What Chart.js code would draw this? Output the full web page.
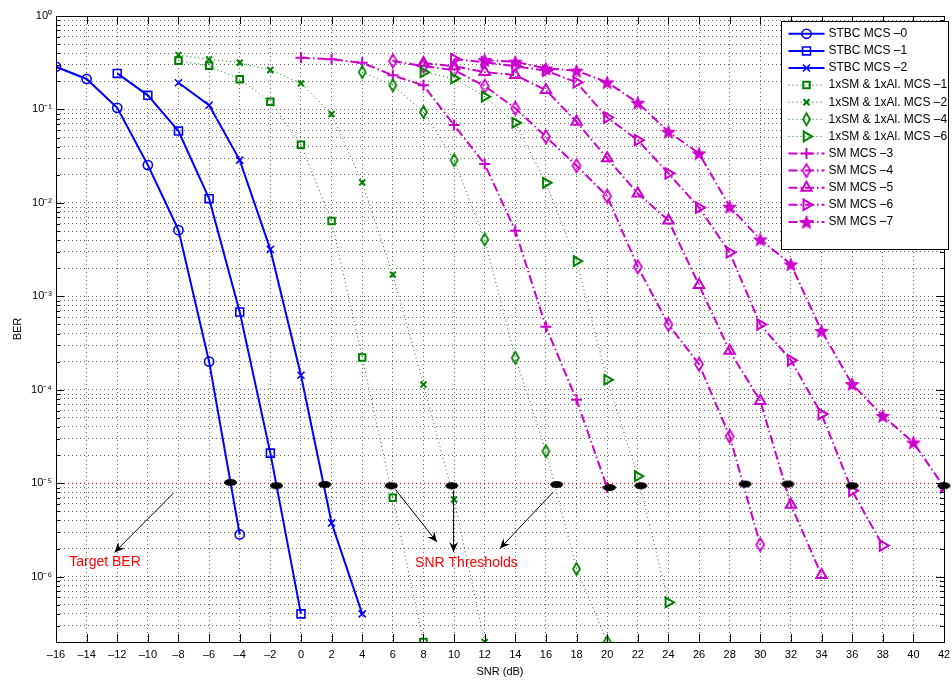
<!DOCTYPE html>
<html><head><meta charset="utf-8">
<script src="https://cdn.jsdelivr.net/npm/chart.js@4.4.1/dist/chart.umd.min.js"></script>
<style>html,body{margin:0;padding:0;background:#fff;}#wrap{width:952px;height:681px;position:relative;}</style>
</head><body><div id="wrap"><canvas id="c" width="952" height="681"></canvas></div>
<script>
// ---------------- data ----------------
const xTickValues = [-16,-14,-12,-10,-8,-6,-4,-2,0,2,4,6,8,10,12,14,16,18,20,22,24,26,28,30,32,34,36,38,40,42];
const yDecadeExponents = [-7,-6,-5,-4,-3,-2,-1,0];
const yMinorMultipliers = [1,2,3,4,5,6,7,8,9];

const snrStbc0 = [-16,-14,-12,-10,-8,-6,-4];
const berStbc0 = [0.286,0.212,0.104,0.0254,0.00511,2.0e-4,2.83e-6];
const snrStbc1 = [-12,-10,-8,-6,-4,-2,0];
const berStbc1 = [0.243,0.1416,0.0587,0.0111,6.8e-4,2.1e-5,4.0e-7];
const snrStbc2 = [-8,-6,-4,-2,0,2,4];
const berStbc2 = [0.193,0.111,0.0287,3.18e-3,1.43e-4,3.76e-6,4.0e-7];

const snrSm1x1 = [-8,-6,-4,-2,0,2,4,6,8];
const berSm1x1 = [0.333,0.294,0.21,0.121,0.0419,6.4e-3,2.22e-4,7.0e-6,2.0e-7];
const snrSm1x2 = [-8,-6,-4,-2,0,2,4,6,8,10,12];
const berSm1x2 = [0.382,0.344,0.316,0.264,0.19,0.0893,0.01657,1.71e-3,1.14e-4,6.7e-6,2.0e-7];
const snrSm1x4 = [4,6,8,10,12,14,16,18,20];
const berSm1x4 = [0.251,0.181,0.0938,0.0287,4.06e-3,2.2e-4,2.2e-5,1.21e-6,2.0e-7];
const snrSm1x6 = [8,10,12,14,16,18,20,22,24];
const berSm1x6 = [0.25,0.215,0.137,0.072,0.0164,2.38e-3,1.28e-4,1.19e-5,5.3e-7];

const snrSm3 = [0,2,4,6,8,10,12,14,16,18,20];
const berSm3 = [0.358,0.344,0.316,0.232,0.181,0.068,0.026,5.03e-3,4.72e-4,7.8e-5,9.0e-6];
const snrSm4 = [6,8,10,12,14,16,18,20,22,24,26,28,30];
const berSm4 = [0.33,0.29,0.264,0.178,0.103,0.051,0.025,0.0118,2.07e-3,5.0e-4,1.88e-4,3.18e-5,2.2e-6];
const snrSm5 = [8,10,12,14,16,18,20,22,24,26,28,30,32,34];
const berSm5 = [0.314,0.29,0.251,0.233,0.161,0.0739,0.030,0.0126,6.5e-3,1.32e-3,2.61e-4,7.6e-5,5.9e-6,1.04e-6];
const snrSm6 = [10,12,14,16,18,20,22,24,26,28,30,32,34,36,38];
const berSm6 = [0.346,0.32,0.29,0.26,0.195,0.082,0.047,0.0207,8.9e-3,2.95e-3,5.0e-4,2.07e-4,5.5e-5,8.3e-6,2.15e-6];
const snrSm7 = [12,14,16,18,20,22,24,26,28,30,32,34,36,38,40,42];
const berSm7 = [0.338,0.324,0.275,0.26,0.195,0.118,0.0577,0.0339,9.1e-3,4.07e-3,2.2e-3,4.27e-4,1.15e-4,5.26e-5,2.73e-5,9.1e-6];

const targetSnr = [-16,42];
const targetBer = [1e-5,1e-5];
const thresholdSnr = [-4.6,-1.6,1.55,5.9,9.85,16.7,20.15,22.2,29.0,31.8,36.0,42.0];
const thresholdBer = [1.02e-5,9.4e-6,9.7e-6,9.4e-6,9.4e-6,9.7e-6,9.0e-6,9.4e-6,9.8e-6,9.8e-6,9.4e-6,9.4e-6];

const arrowFromSnr = [-8.34,6.17,9.97,16.48];
const arrowFromBer = [7.8e-6,8.57e-6,8.41e-6,8.07e-6];
const arrowToSnr = [-12.18,8.88,9.97,12.99];
const arrowToBer = [1.82e-6,2.35e-6,1.84e-6,2.0e-6];
const noteTexts = ['Target BER','SNR Thresholds'];
const noteSnr = [-12.8,10.81];
const noteBer = [1.43e-6,1.39e-6];

const seriesLabels = ['STBC MCS \u20130','STBC MCS \u20131','STBC MCS \u20132',
  '1xSM & 1xAl. MCS \u20131','1xSM & 1xAl. MCS \u20132','1xSM & 1xAl. MCS \u20134','1xSM & 1xAl. MCS \u20136',
  'SM MCS \u20133','SM MCS \u20134','SM MCS \u20135','SM MCS \u20136','SM MCS \u20137'];
const seriesX = [snrStbc0,snrStbc1,snrStbc2,snrSm1x1,snrSm1x2,snrSm1x4,snrSm1x6,snrSm3,snrSm4,snrSm5,snrSm6,snrSm7];
const seriesY = [berStbc0,berStbc1,berStbc2,berSm1x1,berSm1x2,berSm1x4,berSm1x6,berSm3,berSm4,berSm5,berSm6,berSm7];

// ---------------- styles ----------------
const BLUE = '#0000ff', GREEN = '#008000', MAG = '#cc00cc';
const FONT = '"Liberation Sans", Arial, Helvetica, sans-serif';

function makeDiamond(color, w, h, lw) {
  const c = document.createElement('canvas');
  c.width = Math.ceil(w + lw * 2 + 2); c.height = Math.ceil(h + lw * 2 + 2);
  const g = c.getContext('2d'); const cx = c.width / 2, cy = c.height / 2;
  g.strokeStyle = color; g.lineWidth = lw; g.lineJoin = 'miter';
  g.beginPath(); g.moveTo(cx, cy - h / 2); g.lineTo(cx + w / 2, cy); g.lineTo(cx, cy + h / 2); g.lineTo(cx - w / 2, cy); g.closePath(); g.stroke();
  return c;
}
function makeStar(color, R) {
  const c = document.createElement('canvas');
  c.width = Math.ceil(R * 2 + 4); c.height = Math.ceil(R * 2 + 4);
  const g = c.getContext('2d'); const cx = c.width / 2, cy = c.height / 2 + 0.8;
  const r = R * 0.42;
  g.fillStyle = color; g.strokeStyle = color; g.lineWidth = 1;
  g.beginPath();
  for (let i = 0; i < 10; i++) {
    const ang = -Math.PI / 2 + i * Math.PI / 5; const rr = i % 2 ? r : R;
    const px = cx + rr * Math.cos(ang), py = cy + rr * Math.sin(ang);
    i ? g.lineTo(px, py) : g.moveTo(px, py);
  }
  g.closePath(); g.fill(); g.stroke();
  return c;
}
function makeBlob(w, h) {
  const c = document.createElement('canvas');
  c.width = w + 2; c.height = h + 2;
  const g = c.getContext('2d');
  g.fillStyle = '#000';
  g.beginPath(); g.ellipse(c.width / 2, c.height / 2, w / 2, h / 2, 0, 0, Math.PI * 2); g.fill();
  return c;
}
const greenDiamond = makeDiamond(GREEN, 7, 12, 1.8);
const magDiamond = makeDiamond(MAG, 8, 13, 1.8);
const magStar = makeStar(MAG, 7);
const blob = makeBlob(13, 7);

const styles = [
  {c: BLUE, dash: [], w: 2, ps: 'circle', r: 4.6, bw: 1.6},
  {c: BLUE, dash: [], w: 2, ps: 'rect', r: 5.6, bw: 1.6},
  {c: BLUE, dash: [], w: 2, ps: 'crossRot', r: 5, bw: 1.6},
  {c: GREEN, dash: [1, 3], w: 1, ps: 'rect', r: 4.6, bw: 2},
  {c: GREEN, dash: [1, 3], w: 1, ps: 'crossRot', r: 4.2, bw: 2},
  {c: GREEN, dash: [1, 3], w: 1, ps: greenDiamond, r: 5, bw: 2},
  {c: GREEN, dash: [1, 3], w: 1, ps: 'triangle', rot: 90, r: 5.6, bw: 2},
  {c: MAG, dash: [9, 3, 1.5, 3], w: 2, ps: 'cross', r: 5.5, bw: 2},
  {c: MAG, dash: [9, 3, 1.5, 3], w: 2, ps: magDiamond, r: 5, bw: 2},
  {c: MAG, dash: [9, 3, 1.5, 3], w: 2, ps: 'triangle', rot: 0, r: 6, bw: 2},
  {c: MAG, dash: [9, 3, 1.5, 3], w: 2, ps: 'triangle', rot: 90, r: 6, bw: 2},
  {c: MAG, dash: [9, 3, 1.5, 3], w: 2, ps: magStar, r: 6, bw: 1}
];

const datasets = seriesLabels.map((lab, i) => {
  const s = styles[i];
  return {
    label: lab,
    data: seriesX[i].map((v, k) => ({x: v, y: seriesY[i][k]})),
    borderColor: s.c, borderWidth: s.w, borderDash: s.dash,
    pointStyle: s.ps, pointRotation: s.rot || 0, pointRadius: s.r, pointHoverRadius: s.r,
    pointBorderWidth: s.bw, pointBorderColor: s.c, pointBackgroundColor: 'rgba(0,0,0,0)',
    fill: false, tension: 0, order: 10
  };
});
datasets.push({
  label: 'Target BER line',
  data: targetSnr.map((v, k) => ({x: v, y: targetBer[k]})),
  borderColor: '#dd0000', borderWidth: 1, borderDash: [1, 3], pointRadius: 0, fill: false, order: 50
});
datasets.push({
  label: 'SNR thresholds',
  data: thresholdSnr.map((v, k) => ({x: v, y: thresholdBer[k]})),
  showLine: false, pointStyle: blob, pointRadius: 6, pointHoverRadius: 6, clip: false, order: 0
});

const SUP = {'0':'\u2070','1':'\u00b9','2':'\u00b2','3':'\u00b3','4':'\u2074','5':'\u2075','6':'\u2076','7':'\u2077','8':'\u2078','9':'\u2079','-':'\u207b'};
function supLabel(e) { return '10' + String(e).split('').map(ch => SUP[ch]).join(''); }
function isDecade(v) { const l = Math.log10(v); return Math.abs(l - Math.round(l)) < 1e-9; }

function drawArrow(ctx, x1, y1, x2, y2) {
  ctx.beginPath(); ctx.moveTo(x1, y1); ctx.lineTo(x2, y2); ctx.stroke();
  const ang = Math.atan2(y2 - y1, x2 - x1), L = 10, W = 4.5, N = 6.5;
  const bx = x2 - L * Math.cos(ang), by = y2 - L * Math.sin(ang);
  const nx = x2 - N * Math.cos(ang), ny = y2 - N * Math.sin(ang);
  const px = -Math.sin(ang), py = Math.cos(ang);
  ctx.beginPath(); ctx.moveTo(x2, y2); ctx.lineTo(bx + px * W, by + py * W); ctx.lineTo(nx, ny); ctx.lineTo(bx - px * W, by - py * W); ctx.closePath(); ctx.fill();
}

const decor = {
  id: 'decor',
  afterDatasetsDraw(chart) {
    const {ctx, chartArea: a, scales: {x, y}} = chart;
    ctx.save();
    // arrows
    ctx.strokeStyle = '#000'; ctx.fillStyle = '#000'; ctx.lineWidth = 1;
    for (let i = 0; i < arrowFromSnr.length; i++) {
      drawArrow(ctx, x.getPixelForValue(arrowFromSnr[i]), y.getPixelForValue(arrowFromBer[i]),
        x.getPixelForValue(arrowToSnr[i]), y.getPixelForValue(arrowToBer[i]));
    }
    // notes
    ctx.fillStyle = '#ff0000'; ctx.font = '14px ' + FONT; ctx.textAlign = 'center'; ctx.textBaseline = 'middle';
    noteTexts.forEach((t, i) => ctx.fillText(t, x.getPixelForValue(noteSnr[i]), y.getPixelForValue(noteBer[i])));
    // frame
    ctx.strokeStyle = '#000'; ctx.lineWidth = 1;
    ctx.strokeRect(Math.round(a.left) + 0.5, Math.round(a.top) + 0.5, Math.round(a.right - a.left), Math.round(a.bottom - a.top));
    // inward ticks
    ctx.beginPath();
    xTickValues.forEach(v => {
      const px = Math.round(x.getPixelForValue(v)) + 0.5;
      ctx.moveTo(px, a.bottom); ctx.lineTo(px, a.bottom - 8);
      ctx.moveTo(px, a.top); ctx.lineTo(px, a.top + 8);
    });
    y.ticks.forEach(t => {
      const py = Math.round(y.getPixelForValue(t.value)) + 0.5;
      const L = isDecade(t.value) ? 8 : 4;
      ctx.moveTo(a.left, py); ctx.lineTo(a.left + L, py);
      ctx.moveTo(a.right, py); ctx.lineTo(a.right - L, py);
    });
    ctx.stroke();
    // legend
    const bx = Math.round(a.right - 163) + 0.5, by = Math.round(a.top + 5) + 0.5, bw = 167, bh = 228;
    ctx.fillStyle = '#fff'; ctx.fillRect(bx, by, bw, bh);
    ctx.strokeStyle = '#000'; ctx.lineWidth = 1; ctx.strokeRect(bx, by, bw, bh);
    ctx.font = '12px ' + FONT; ctx.textAlign = 'left'; ctx.textBaseline = 'middle';
    for (let i = 0; i < seriesLabels.length; i++) {
      const ds = chart.data.datasets[i];
      const yy = by + 12.3 + i * 17.1;
      ctx.save();
      ctx.strokeStyle = ds.borderColor; ctx.lineWidth = ds.borderWidth; ctx.setLineDash(ds.borderDash);
      ctx.beginPath(); ctx.moveTo(bx + 7, yy); ctx.lineTo(bx + 43, yy); ctx.stroke();
      ctx.setLineDash([]);
      ctx.strokeStyle = ds.pointBorderColor; ctx.fillStyle = ds.pointBackgroundColor; ctx.lineWidth = ds.pointBorderWidth;
      Chart.helpers.drawPoint(ctx, {pointStyle: ds.pointStyle, rotation: ds.pointRotation, radius: ds.pointRadius, borderWidth: ds.pointBorderWidth}, bx + 25, yy);
      ctx.restore();
      ctx.fillStyle = '#000';
      ctx.fillText(seriesLabels[i], bx + 47, yy);
    }
    ctx.restore();
  }
};

new Chart(document.getElementById('c'), {
  type: 'line',
  data: {datasets},
  options: {
    responsive: false, animation: false, devicePixelRatio: 1,
    layout: {padding: {top: 16, right: 5, left: 0, bottom: 0}},
    plugins: {legend: {display: false}, tooltip: {enabled: false}},
    events: [],
    scales: {
      x: {
        type: 'linear', min: -16, max: 42,
        afterBuildTicks: s => { s.ticks = xTickValues.map(v => ({value: v})); },
        afterFit: s => { s.height = 39; s.paddingLeft = 0; s.paddingRight = 0; },
        ticks: {autoSkip: false, maxRotation: 0, padding: 6, color: '#000', font: {family: FONT, size: 11},
          callback: v => (v < 0 ? '\u2013' + Math.abs(v) : String(v))},
        grid: {color: '#666', lineWidth: 1, drawTicks: false},
        border: {display: false, dash: [1, 3]},
        title: {display: true, text: 'SNR (dB)', color: '#000', font: {family: FONT, size: 11}, padding: {top: 0, bottom: 2.5}}
      },
      y: {
        type: 'logarithmic', min: 2e-7, max: 1,
        afterBuildTicks: s => {
          const t = [];
          yDecadeExponents.forEach(e => yMinorMultipliers.forEach(m => {
            const v = m * Math.pow(10, e);
            if (v >= 2e-7 * 0.999 && v <= 1.0001) t.push({value: v});
          }));
          s.ticks = t;
        },
        afterFit: s => { s.width = 56; s.paddingTop = 0; s.paddingBottom = 0; },
        ticks: {autoSkip: false, padding: 4, color: '#000', font: {family: FONT, size: 11},
          callback: v => (isDecade(v) ? supLabel(Math.round(Math.log10(v))) : '')},
        grid: {color: '#666', lineWidth: 1, drawTicks: false},
        border: {display: false, dash: [1, 3]},
        title: {display: true, text: 'BER', color: '#000', font: {family: FONT, size: 11}, padding: {top: 11.4, bottom: 0}}
      }
    }
  },
  plugins: [decor]
});
</script></body></html>
